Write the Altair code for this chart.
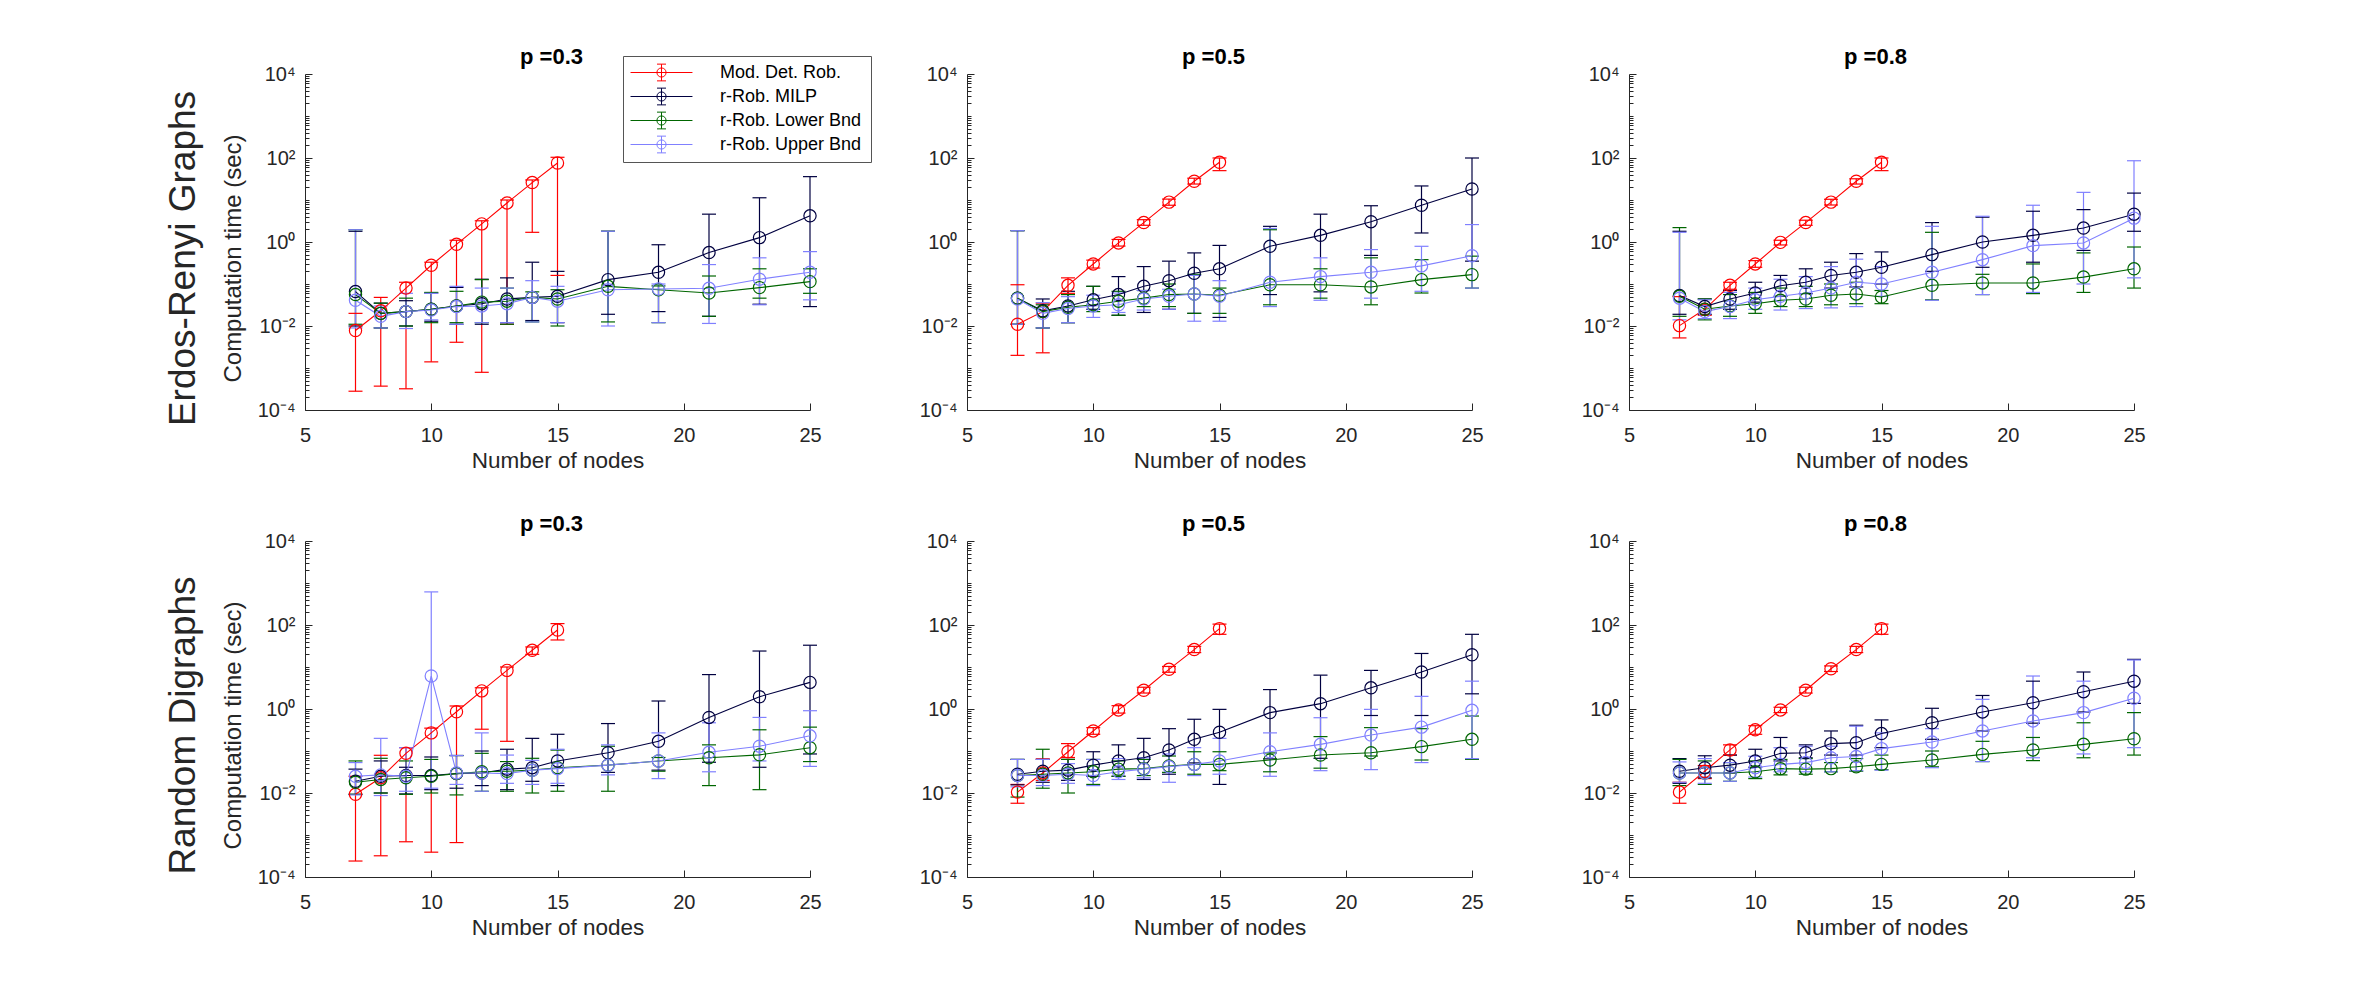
import math
import altair as alt
import pandas as pd

# ---------------- labels / categories ----------------
SERIES = ["Mod. Det. Rob.", "r-Rob. MILP", "r-Rob. Lower Bnd", "r-Rob. Upper Bnd"]
COLORS = ["#ff0000", "#000040", "#006600", "#8080ff"]
ROW_LABELS = ["Erdos-Renyi Graphs", "Random Digraphs"]
P_LABELS = ["p =0.3", "p =0.5", "p =0.8"]
NODES_DET = [7, 8, 9, 10, 11, 12, 13, 14, 15]
NODES_ROB = [7, 8, 9, 10, 11, 12, 13, 14, 15, 17, 19, 21, 23, 25]
X_TICKS = [5, 10, 15, 20, 25]
Y_EXPONENTS = [-4, -2, 0, 2, 4]
Y_TICK_LABELS = ["10⁻⁴", "10⁻²", "10⁰", "10²", "10⁴"]

# ---------------- Erdos-Renyi, p = 0.3 ----------------
er3_det_mean = [0.0078, 0.023, 0.08, 0.28, 0.88, 2.7, 8.5, 26, 76]
er3_det_lo = [2.8e-4, 3.7e-4, 3.2e-4, 1.4e-3, 4.1e-3, 7.9e-4, 0.011, 1.7, 0.16]
er3_det_hi = [0.02, 0.048, 0.11, 0.33, 1.1, 3.2, 10, 30, 104]
er3_milp_mean = [0.066, 0.02, 0.022, 0.025, 0.03, 0.034, 0.044, 0.048, 0.051, 0.127, 0.19, 0.56, 1.27, 4.2]
er3_milp_lo = [0.01, 0.009, 0.01, 0.013, 0.011, 0.011, 0.012, 0.0135, 0.012, 0.019, 0.022, 0.017, 0.033, 0.029]
er3_milp_hi = [1.8, 0.035, 0.04, 0.061, 0.083, 0.13, 0.14, 0.33, 0.2, 1.8, 0.86, 4.6, 11.3, 36]
er3_low_mean = [0.056, 0.02, 0.022, 0.025, 0.03, 0.037, 0.039, 0.048, 0.044, 0.088, 0.073, 0.061, 0.082, 0.114]
er3_low_lo = [0.011, 0.009, 0.01, 0.012, 0.012, 0.012, 0.011, 0.0125, 0.01, 0.0125, 0.012, 0.017, 0.046, 0.06]
er3_low_hi = [1.96, 0.035, 0.046, 0.063, 0.067, 0.127, 0.08, 0.065, 0.073, 1.8, 0.09, 0.155, 0.23, 0.23]
er3_up_mean = [0.041, 0.017, 0.022, 0.024, 0.029, 0.03, 0.034, 0.048, 0.039, 0.073, 0.076, 0.079, 0.13, 0.19]
er3_up_lo = [0.009, 0.009, 0.0087, 0.014, 0.011, 0.012, 0.012, 0.0125, 0.012, 0.01, 0.012, 0.0115, 0.032, 0.042]
er3_up_hi = [1.96, 0.03, 0.06, 0.06, 0.088, 0.08, 0.08, 0.12, 0.088, 1.8, 0.1, 0.29, 0.42, 0.59]

# ---------------- Erdos-Renyi, p = 0.5 ----------------
er5_det_mean = [0.011, 0.022, 0.093, 0.3, 0.95, 2.9, 8.9, 28, 79]
er5_det_lo = [0.002, 0.0023, 0.06, 0.24, 0.8, 2.5, 7.5, 24, 50]
er5_det_hi = [0.096, 0.035, 0.14, 0.37, 1.15, 3.4, 10.5, 33, 100]
er5_milp_mean = [0.046, 0.023, 0.03, 0.042, 0.056, 0.088, 0.12, 0.18, 0.23, 0.79, 1.44, 3.05, 7.5, 18.3]
er5_milp_lo = [0.011, 0.009, 0.012, 0.025, 0.018, 0.021, 0.025, 0.02, 0.016, 0.056, 0.065, 0.48, 1.64, 0.35]
er5_milp_hi = [1.86, 0.044, 0.067, 0.088, 0.15, 0.26, 0.35, 0.55, 0.83, 2.36, 4.6, 7.3, 21.6, 100]
er5_low_mean = [0.046, 0.022, 0.028, 0.032, 0.039, 0.046, 0.056, 0.058, 0.054, 0.096, 0.096, 0.085, 0.127, 0.167]
er5_low_lo = [0.011, 0.009, 0.012, 0.022, 0.018, 0.029, 0.029, 0.02, 0.02, 0.032, 0.046, 0.032, 0.061, 0.08]
er5_low_hi = [1.86, 0.032, 0.056, 0.088, 0.067, 0.07, 0.1, 0.17, 0.08, 1.96, 0.23, 0.42, 0.38, 0.46]
er5_up_mean = [0.044, 0.02, 0.026, 0.03, 0.032, 0.044, 0.051, 0.058, 0.051, 0.11, 0.15, 0.19, 0.27, 0.47]
er5_up_lo = [0.011, 0.009, 0.012, 0.016, 0.021, 0.024, 0.025, 0.013, 0.013, 0.029, 0.041, 0.046, 0.067, 0.08]
er5_up_hi = [1.86, 0.036, 0.05, 0.054, 0.061, 0.07, 0.075, 0.16, 0.12, 2.1, 0.42, 0.66, 0.79, 2.6]

# ---------------- Erdos-Renyi, p = 0.8 ----------------
er8_det_mean = [0.0102, 0.025, 0.093, 0.3, 0.98, 2.9, 8.9, 28, 79]
er8_det_lo = [0.0052, 0.018, 0.075, 0.25, 0.85, 2.5, 7.6, 24, 50]
er8_det_hi = [0.05, 0.032, 0.11, 0.36, 1.1, 3.3, 10.4, 32, 100]
er8_milp_mean = [0.053, 0.029, 0.044, 0.061, 0.091, 0.11, 0.16, 0.19, 0.25, 0.5, 1.0, 1.44, 2.15, 4.6]
er8_milp_lo = [0.019, 0.019, 0.025, 0.037, 0.051, 0.059, 0.08, 0.085, 0.1, 0.2, 0.25, 0.33, 0.63, 1.8]
er8_milp_hi = [1.8, 0.044, 0.07, 0.11, 0.16, 0.23, 0.33, 0.53, 0.58, 2.9, 3.9, 5.4, 5.9, 14.6]
er8_low_mean = [0.051, 0.025, 0.03, 0.034, 0.041, 0.044, 0.054, 0.058, 0.049, 0.093, 0.106, 0.106, 0.146, 0.23]
er8_low_lo = [0.017, 0.014, 0.017, 0.02, 0.029, 0.029, 0.032, 0.034, 0.034, 0.042, 0.056, 0.059, 0.063, 0.08]
er8_low_hi = [2.2, 0.044, 0.056, 0.063, 0.08, 0.088, 0.1, 0.11, 0.07, 1.7, 0.17, 0.3, 0.55, 0.76]
er8_up_mean = [0.046, 0.022, 0.029, 0.042, 0.051, 0.061, 0.08, 0.11, 0.1, 0.19, 0.38, 0.82, 0.95, 3.7]
er8_up_lo = [0.014, 0.015, 0.015, 0.025, 0.024, 0.026, 0.027, 0.029, 0.051, 0.041, 0.056, 0.063, 0.1, 0.14]
er8_up_hi = [1.7, 0.042, 0.063, 0.08, 0.13, 0.15, 0.26, 0.39, 0.26, 2.36, 4.1, 7.5, 15.2, 86]

# ---------------- Random digraphs, p = 0.3 ----------------
rd3_det_mean = [0.0093, 0.023, 0.088, 0.27, 0.86, 2.7, 8.3, 25, 76]
rd3_det_lo = [2.4e-4, 3.2e-4, 6.9e-4, 3.9e-4, 6.6e-4, 0.33, 0.17, 20, 44]
rd3_det_hi = [0.025, 0.079, 0.12, 0.35, 1.18, 3.2, 10, 30, 108]
rd3_milp_mean = [0.019, 0.025, 0.026, 0.026, 0.029, 0.03, 0.037, 0.04, 0.058, 0.091, 0.17, 0.63, 1.96, 4.3]
rd3_milp_lo = [0.0093, 0.01, 0.0095, 0.012, 0.013, 0.015, 0.012, 0.019, 0.015, 0.031, 0.035, 0.054, 0.041, 0.085]
rd3_milp_hi = [0.037, 0.058, 0.041, 0.072, 0.078, 0.1, 0.11, 0.2, 0.25, 0.45, 1.55, 6.6, 24, 33]
rd3_low_mean = [0.018, 0.021, 0.023, 0.025, 0.029, 0.032, 0.033, 0.035, 0.04, 0.046, 0.058, 0.069, 0.081, 0.12]
rd3_low_lo = [0.0093, 0.01, 0.0093, 0.01, 0.009, 0.011, 0.011, 0.01, 0.011, 0.011, 0.033, 0.015, 0.012, 0.056]
rd3_low_hi = [0.058, 0.067, 0.058, 0.063, 0.078, 0.088, 0.056, 0.067, 0.105, 0.13, 0.07, 0.14, 0.32, 0.37]
rd3_up_mean = [0.025, 0.027, 0.025, 6.1, 0.03, 0.03, 0.029, 0.035, 0.038, 0.046, 0.058, 0.093, 0.13, 0.23]
rd3_up_lo = [0.009, 0.0087, 0.011, 0.013, 0.016, 0.011, 0.017, 0.016, 0.017, 0.027, 0.022, 0.032, 0.058, 0.043]
rd3_up_hi = [0.053, 0.2, 0.12, 614, 0.078, 0.27, 0.08, 0.06, 0.11, 0.14, 0.27, 0.47, 0.63, 0.91]

# ---------------- Random digraphs, p = 0.5 ----------------
rd5_det_mean = [0.0105, 0.03, 0.096, 0.3, 0.95, 2.8, 8.8, 26, 82]
rd5_det_lo = [0.0057, 0.02, 0.07, 0.25, 0.8, 2.4, 7.5, 22, 60]
rd5_det_hi = [0.016, 0.065, 0.15, 0.36, 1.2, 3.3, 10.3, 31, 105]
rd5_milp_mean = [0.028, 0.033, 0.035, 0.046, 0.058, 0.069, 0.106, 0.19, 0.28, 0.82, 1.34, 3.2, 7.6, 19.6]
rd5_milp_lo = [0.0156, 0.018, 0.02, 0.025, 0.025, 0.021, 0.028, 0.052, 0.016, 0.065, 0.067, 0.7, 0.7, 2.3]
rd5_milp_hi = [0.063, 0.063, 0.063, 0.096, 0.14, 0.2, 0.34, 0.57, 0.98, 2.9, 6.4, 8.3, 21, 60]
rd5_low_mean = [0.026, 0.028, 0.03, 0.032, 0.037, 0.038, 0.044, 0.048, 0.048, 0.061, 0.08, 0.091, 0.127, 0.19]
rd5_low_lo = [0.008, 0.013, 0.01, 0.016, 0.025, 0.026, 0.031, 0.028, 0.034, 0.032, 0.039, 0.076, 0.061, 0.063]
rd5_low_hi = [0.063, 0.11, 0.063, 0.063, 0.058, 0.063, 0.076, 0.096, 0.096, 0.09, 0.22, 0.36, 0.34, 0.68]
rd5_up_mean = [0.026, 0.026, 0.028, 0.026, 0.032, 0.037, 0.042, 0.048, 0.058, 0.096, 0.144, 0.24, 0.37, 0.93]
rd5_up_lo = [0.014, 0.015, 0.017, 0.015, 0.021, 0.023, 0.018, 0.026, 0.028, 0.025, 0.034, 0.036, 0.053, 0.066]
rd5_up_hi = [0.063, 0.063, 0.05, 0.063, 0.066, 0.069, 0.085, 0.12, 0.2, 0.27, 0.62, 0.98, 2.0, 4.6]

# ---------------- Random digraphs, p = 0.8 ----------------
rd8_det_mean = [0.0105, 0.033, 0.106, 0.32, 0.95, 2.8, 9.1, 26, 82]
rd8_det_lo = [0.0057, 0.022, 0.08, 0.25, 0.82, 2.4, 7.8, 22, 60]
rd8_det_hi = [0.018, 0.045, 0.14, 0.4, 1.1, 3.3, 10.6, 31, 105]
rd8_milp_mean = [0.033, 0.04, 0.046, 0.058, 0.088, 0.091, 0.15, 0.158, 0.26, 0.47, 0.85, 1.41, 2.58, 4.6]
rd8_milp_lo = [0.017, 0.023, 0.03, 0.041, 0.058, 0.069, 0.08, 0.08, 0.12, 0.19, 0.3, 0.46, 0.85, 1.36]
rd8_milp_hi = [0.066, 0.077, 0.08, 0.11, 0.21, 0.14, 0.3, 0.41, 0.55, 1.04, 2.1, 4.6, 7.6, 15.2]
rd8_low_mean = [0.03, 0.03, 0.03, 0.032, 0.038, 0.037, 0.038, 0.042, 0.048, 0.061, 0.083, 0.106, 0.144, 0.196]
rd8_low_lo = [0.015, 0.016, 0.019, 0.022, 0.027, 0.028, 0.032, 0.033, 0.036, 0.042, 0.056, 0.059, 0.069, 0.08]
rd8_low_hi = [0.063, 0.058, 0.053, 0.058, 0.063, 0.066, 0.053, 0.066, 0.08, 0.1, 0.17, 0.21, 0.47, 0.82]
rd8_up_mean = [0.03, 0.03, 0.03, 0.04, 0.048, 0.053, 0.069, 0.074, 0.114, 0.164, 0.3, 0.52, 0.82, 1.8]
rd8_up_lo = [0.018, 0.017, 0.019, 0.024, 0.032, 0.032, 0.032, 0.034, 0.035, 0.04, 0.056, 0.069, 0.085, 0.12]
rd8_up_hi = [0.055, 0.066, 0.053, 0.075, 0.12, 0.13, 0.13, 0.39, 0.27, 0.34, 1.7, 6.1, 4.6, 14.7]

PANELS = [
    [(er3_det_mean, er3_det_lo, er3_det_hi), (er3_milp_mean, er3_milp_lo, er3_milp_hi),
     (er3_low_mean, er3_low_lo, er3_low_hi), (er3_up_mean, er3_up_lo, er3_up_hi)],
    [(er5_det_mean, er5_det_lo, er5_det_hi), (er5_milp_mean, er5_milp_lo, er5_milp_hi),
     (er5_low_mean, er5_low_lo, er5_low_hi), (er5_up_mean, er5_up_lo, er5_up_hi)],
    [(er8_det_mean, er8_det_lo, er8_det_hi), (er8_milp_mean, er8_milp_lo, er8_milp_hi),
     (er8_low_mean, er8_low_lo, er8_low_hi), (er8_up_mean, er8_up_lo, er8_up_hi)],
    [(rd3_det_mean, rd3_det_lo, rd3_det_hi), (rd3_milp_mean, rd3_milp_lo, rd3_milp_hi),
     (rd3_low_mean, rd3_low_lo, rd3_low_hi), (rd3_up_mean, rd3_up_lo, rd3_up_hi)],
    [(rd5_det_mean, rd5_det_lo, rd5_det_hi), (rd5_milp_mean, rd5_milp_lo, rd5_milp_hi),
     (rd5_low_mean, rd5_low_lo, rd5_low_hi), (rd5_up_mean, rd5_up_lo, rd5_up_hi)],
    [(rd8_det_mean, rd8_det_lo, rd8_det_hi), (rd8_milp_mean, rd8_milp_lo, rd8_milp_hi),
     (rd8_low_mean, rd8_low_lo, rd8_low_hi), (rd8_up_mean, rd8_up_lo, rd8_up_hi)],
]

# ---------------- styling ----------------
FONT = "Liberation Sans"
AX = "#262626"
PANEL_W, PANEL_H = 505, 336
Y_MINOR = [m * 10.0 ** d for d in range(-4, 4) for m in range(2, 10)] + [1e-3, 1e-1, 1e1, 1e3]

label_expr = " : ".join(
    f"abs(log(datum.value)/LN10 - ({e})) < 0.01 ? '{lab}'" for e, lab in zip(Y_EXPONENTS, Y_TICK_LABELS)
) + " : ''"

# legend glyph (unit = 9 px): line, error bar with caps, open circle; final move-to widens the box
LEGEND_PATH = ("M-3.44,0H3.44M0,-0.93V0.93M-0.5,-0.93H0.5M-0.5,0.93H0.5"
               "M0.51,0A0.51,0.51 0 1,1 -0.51,0A0.51,0.51 0 1,1 0.51,0M22.2,0")
CAP_SHAPE = "M-1,0H1"

LEGEND = alt.Legend(
    title=None, orient="none", legendX=318, legendY=-18, symbolType=LEGEND_PATH,
    symbolSize=324, symbolOffset=22, symbolStrokeWidth=1, symbolFillColor="transparent",
    labelFont=FONT, labelFontSize=18, labelColor="#000000", labelOffset=49,
    padding=7, rowPadding=3, strokeColor="#555555", fillColor="#ffffff")

xs = alt.Scale(domain=[5, 25], nice=False, zero=False)
ys = alt.Scale(type="log", domain=[1e-4, 1e4], nice=False)
cs = alt.Scale(domain=SERIES, range=COLORS)
color_enc = alt.Color("series:N", scale=cs, legend=LEGEND)


def panel_frame(series_data):
    frames = []
    for name, (mean, lo, hi) in zip(SERIES, series_data):
        xvals = NODES_DET if len(mean) == len(NODES_DET) else NODES_ROB
        frames.append(pd.DataFrame({"series": name, "x": xvals, "y": mean, "lo": lo, "hi": hi}))
    return pd.concat(frames, ignore_index=True)


def make_panel(idx):
    row, col = divmod(idx, 3)
    df = panel_frame(PANELS[idx])
    base = alt.Chart(df)

    x_axis = alt.Axis(values=X_TICKS, tickSize={"expr": "-7"}, labelPadding=22, labelFlush=False,
                      labelOverlap=False, labelFontSize=20, labelFont=FONT, labelColor=AX,
                      domainColor=AX, tickColor=AX, grid=False, title="Number of nodes",
                      titleFont=FONT, titleFontSize=22.5, titleFontWeight="normal", titleColor=AX,
                      titlePadding=4)
    major_kw = dict(orient="left", values=[10.0 ** e for e in Y_EXPONENTS], labelExpr=label_expr,
                    tickSize={"expr": "-7"}, labelPadding=17, labelOverlap=False, labelFontSize=20,
                    labelFont=FONT, labelColor=AX, domainColor=AX, tickColor=AX, grid=False)
    minor_kw = dict(orient="left", values=Y_MINOR, labels=False, domain=False,
                    tickSize={"expr": "-4"}, tickColor=AX, grid=False)
    if col == 0:
        major_axis = alt.Axis(title="Computation time (sec)", titleFont=FONT, titleFontSize=24,
                              titleFontWeight="normal", titleColor=AX, titlePadding=12, titleY=184,
                              **major_kw)
        minor_axis = alt.Axis(title=ROW_LABELS[row], titleFont=FONT, titleFontSize=37,
                              titleFontWeight="normal", titleColor=AX, titlePadding=102, titleY=184,
                              **minor_kw)
    else:
        major_axis = alt.Axis(title=None, **major_kw)
        minor_axis = alt.Axis(title=None, **minor_kw)

    rules = base.mark_rule(strokeWidth=1.2).encode(
        x=alt.X("x:Q", scale=xs, axis=x_axis),
        y=alt.Y("lo:Q", scale=ys, axis=major_axis),
        y2="hi:Q",
        color=color_enc,
    )
    caps = base.transform_fold(["lo", "hi"], as_=["end", "val"]).mark_point(
        shape=CAP_SHAPE, size=196, filled=False, strokeWidth=1.2, opacity=1
    ).encode(
        x=alt.X("x:Q", scale=xs, axis=None),
        y=alt.Y("val:Q", scale=ys, axis=minor_axis),
        color=color_enc,
    )
    lines = base.mark_line(strokeWidth=1.1).encode(
        x=alt.X("x:Q", scale=xs, axis=None),
        y=alt.Y("y:Q", scale=ys, axis=None),
        color=color_enc,
    )
    points = base.mark_point(shape="circle", filled=False, size=150, strokeWidth=1.2, opacity=1).encode(
        x=alt.X("x:Q", scale=xs, axis=None),
        y=alt.Y("y:Q", scale=ys, axis=None),
        color=color_enc,
    )
    return alt.layer(rules, caps, lines, points).resolve_scale(
        x="shared", y="shared", color="shared"
    ).resolve_axis(x="independent", y="independent").properties(
        width=PANEL_W, height=PANEL_H,
        title=alt.TitleParams(text=P_LABELS[col], font=FONT, fontSize=22, fontWeight="bold",
                              color="#000000", frame="group", offset=-22, baseline="alphabetic",
                              dx=-6, anchor="middle"),
    )


chart = alt.concat(*[make_panel(i) for i in range(6)], columns=3,
                   spacing={"row": 131, "column": 157}).properties(
    bounds="flush",
    padding={"left": 164, "top": 46, "right": 30, "bottom": 30},
    background="#ffffff",
).configure_view(stroke=None)

chart.save("out.html", embed_options={"renderer": "svg", "actions": False})
